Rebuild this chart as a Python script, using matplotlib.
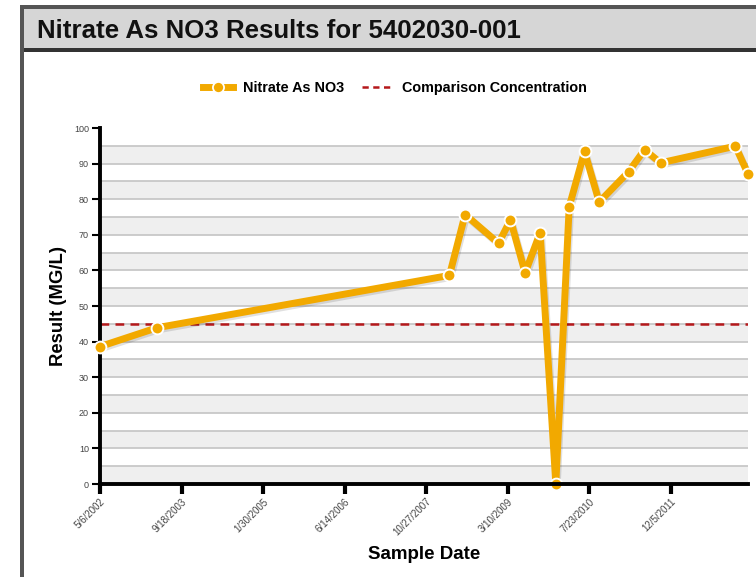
import datetime as dt
import matplotlib
matplotlib.use('Agg')
import matplotlib.pyplot as plt
import matplotlib.patches as mpatches
import matplotlib.patheffects as pe
from matplotlib.lines import Line2D

plt.rcParams['font.family'] = ['Liberation Sans', 'DejaVu Sans']

# sample data
sample_dates = ['2002-05-06', '2003-04-21', '2008-03-17', '2008-06-21',
                '2009-01-12', '2009-03-26', '2009-06-24', '2009-09-24',
                '2009-12-29', '2010-03-21', '2010-06-23', '2010-09-21',
                '2011-03-20', '2011-06-26', '2011-10-02', '2013-01-03',
                '2013-03-21']
nitrate = [38.6, 43.9, 58.6, 75.7, 67.6, 74.2, 59.3, 70.6,
           0.0, 77.9, 93.4, 79.2, 87.7, 93.9, 90.2, 94.9, 87.1]
comparison = 45
tick_start = '2002-05-06'
tick_step_days = 500
n_ticks = 8

dates = [dt.datetime.strptime(d, '%Y-%m-%d') for d in sample_dates]
t0 = dt.datetime.strptime(tick_start, '%Y-%m-%d')
tick_dates = [t0 + dt.timedelta(days=tick_step_days * i) for i in range(n_ticks)]
tick_labels = [f"{d.month}/{d.day}/{d.year}" for d in tick_dates]

W, H = 756, 577
fig = plt.figure(figsize=(W / 100, H / 100), dpi=100)


def fx(px):
    return px / W


def fy(py):
    return 1 - py / H


# panel frame and title bar
fig.patches.append(mpatches.Rectangle((fx(20), fy(52)), 1, fy(5) - fy(52),
                   transform=fig.transFigure, facecolor='#d6d6d6',
                   edgecolor='none', zorder=0))
fig.patches.append(mpatches.Rectangle((fx(20), fy(9)), 1, fy(5) - fy(9),
                   transform=fig.transFigure, facecolor='#555555',
                   edgecolor='none', zorder=1))
fig.patches.append(mpatches.Rectangle((fx(20), fy(52)), 1, fy(48) - fy(52),
                   transform=fig.transFigure, facecolor='#333333',
                   edgecolor='none', zorder=1))
fig.patches.append(mpatches.Rectangle((fx(20), 0), fx(4), fy(5),
                   transform=fig.transFigure, facecolor='#555555',
                   edgecolor='none', zorder=1))
fig.text(fx(37), fy(31), 'Nitrate As NO3 Results for 5402030-001',
         fontsize=18.6, fontweight='bold', color='#111111', va='center')

ax = fig.add_axes([fx(100), fy(484), fx(748) - fx(100), fy(128) - fy(484)])

# alternating bands
for lo in range(0, 100, 10):
    ax.axhspan(lo, lo + 5, color='#efefef', zorder=0, lw=0)
for g in range(5, 100, 5):
    ax.axhline(g, color='#c8c8c8', lw=1.3, zorder=1)

ax.axhline(comparison, color='#b5181b', lw=1.8, ls=(0, (3.5, 2.5)), zorder=2)

line_color = '#f2a900'
ax.plot(dates, nitrate, color=line_color, lw=5, solid_joinstyle='round',
        solid_capstyle='round', zorder=3, clip_on=False,
        path_effects=[pe.SimpleLineShadow(offset=(1, -1.5), alpha=0.12),
                      pe.Normal()])
ax.plot(dates, nitrate, ls='none', marker='o', ms=8.5, mfc=line_color,
        mec='white', mew=1.4, zorder=4, clip_on=False)

ax.set_ylim(0, 100)
ax.set_xlim(dates[0], dates[-1])
ax.set_yticks(range(0, 101, 10))
ax.set_xticks(tick_dates)
ax.set_xticklabels(tick_labels, rotation=45, ha='right',
                   rotation_mode='anchor')
ax.tick_params(axis='x', length=7, width=3, color='black', labelsize=7,
               labelcolor='#444444', pad=2)
ax.tick_params(axis='y', length=6, width=1.5, color='black', labelsize=6.5,
               labelcolor='#444444', pad=2)

for side in ['top', 'right']:
    ax.spines[side].set_visible(False)
for side in ['left', 'bottom']:
    ax.spines[side].set_linewidth(2.8)
    ax.spines[side].set_color('black')
ax.spines['bottom'].set_zorder(5)
ax.set_facecolor('white')

ax.set_ylabel('Result (MG/L)', fontsize=13.3, fontweight='bold', labelpad=5)
ax.set_xlabel('Sample Date', fontsize=13.5, fontweight='bold', labelpad=6)

handles = [
    Line2D([], [], color=line_color, lw=5, marker='o', ms=8, mfc=line_color,
           mec='white', mew=1.3),
    Line2D([], [], color='#b5181b', lw=1.8, ls=(0, (2.5, 1.8))),
]
fig.legend(handles, ['Nitrate As NO3', 'Comparison Concentration'],
           loc='center', bbox_to_anchor=(fx(395), fy(88)), ncol=2,
           frameon=False, prop={'weight': 'bold', 'size': 10.4},
           handlelength=2.1, columnspacing=1.2, handletextpad=0.7)

fig.savefig('out.png', dpi=100)
